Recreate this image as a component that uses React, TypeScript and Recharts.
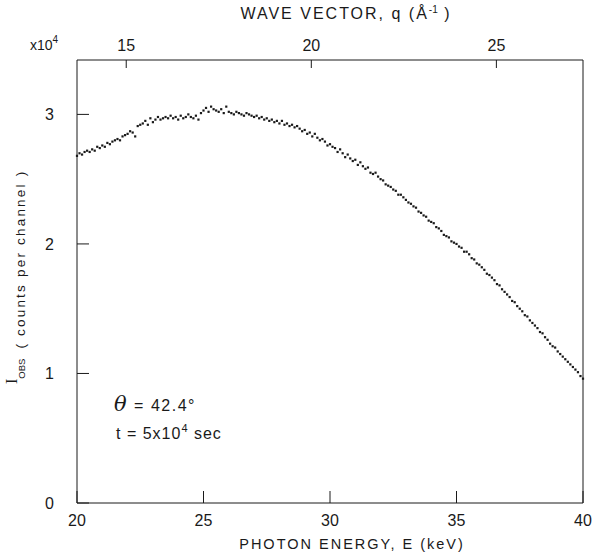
import { ScatterChart, Scatter, XAxis, YAxis, Customized } from "recharts";

const seg20: [number, number][] = [
  [20.0, 2.68], [20.1, 2.7], [20.2, 2.69], [20.3, 2.71], [20.4, 2.72], [20.5, 2.71], [20.6, 2.73], [20.7, 2.72], [20.8, 2.75], [20.9, 2.74],
  [21.0, 2.76], [21.1, 2.75], [21.2, 2.78], [21.3, 2.77], [21.4, 2.79], [21.5, 2.8], [21.6, 2.81], [21.7, 2.8], [21.8, 2.83], [21.9, 2.84],
  [22.0, 2.85], [22.1, 2.87], [22.2, 2.86], [22.3, 2.83], [22.4, 2.91], [22.5, 2.92], [22.6, 2.93], [22.7, 2.95], [22.8, 2.92], [22.9, 2.97],
  [23.0, 2.94], [23.1, 2.96], [23.2, 2.98], [23.3, 2.96], [23.4, 2.97], [23.5, 2.98], [23.6, 2.97], [23.7, 2.99], [23.8, 2.97], [23.9, 2.98],
  [24.0, 2.96], [24.1, 2.99], [24.2, 2.97], [24.3, 2.98], [24.4, 3.0], [24.5, 2.98], [24.6, 2.97], [24.7, 2.99], [24.8, 2.96], [24.9, 3.01],
];
const seg25: [number, number][] = [
  [25.0, 3.03], [25.1, 3.05], [25.2, 3.02], [25.3, 3.06], [25.4, 3.04], [25.5, 3.03], [25.6, 3.02], [25.7, 3.04], [25.8, 3.01], [25.9, 3.06],
  [26.0, 3.02], [26.1, 3.01], [26.2, 3.0], [26.3, 3.02], [26.4, 3.01], [26.5, 3.0], [26.6, 2.99], [26.7, 3.01], [26.8, 3.0], [26.9, 2.99],
  [27.0, 2.98], [27.1, 2.99], [27.2, 2.97], [27.3, 2.98], [27.4, 2.96], [27.5, 2.97], [27.6, 2.95], [27.7, 2.96], [27.8, 2.94], [27.9, 2.95],
  [28.0, 2.93], [28.1, 2.95], [28.2, 2.92], [28.3, 2.93], [28.4, 2.91], [28.5, 2.92], [28.6, 2.9], [28.7, 2.91], [28.8, 2.89], [28.9, 2.87],
  [29.0, 2.88], [29.1, 2.85], [29.2, 2.86], [29.3, 2.83], [29.4, 2.85], [29.5, 2.82], [29.6, 2.8], [29.7, 2.81], [29.8, 2.79], [29.9, 2.76],
];
const seg30: [number, number][] = [
  [30.0, 2.77], [30.1, 2.75], [30.2, 2.74], [30.3, 2.71], [30.4, 2.73], [30.5, 2.7], [30.6, 2.67], [30.7, 2.69], [30.8, 2.66], [30.9, 2.64],
  [31.0, 2.65], [31.1, 2.61], [31.2, 2.63], [31.3, 2.6], [31.4, 2.58], [31.5, 2.59], [31.6, 2.55], [31.7, 2.54], [31.8, 2.55], [31.9, 2.52],
  [32.0, 2.5], [32.1, 2.49], [32.2, 2.46], [32.3, 2.45], [32.4, 2.44], [32.5, 2.42], [32.6, 2.41], [32.7, 2.38], [32.8, 2.38], [32.9, 2.36],
  [33.0, 2.34], [33.1, 2.32], [33.2, 2.31], [33.3, 2.29], [33.4, 2.28], [33.5, 2.25], [33.6, 2.24], [33.7, 2.22], [33.8, 2.21], [33.9, 2.18],
  [34.0, 2.17], [34.1, 2.16], [34.2, 2.13], [34.3, 2.12], [34.4, 2.1], [34.5, 2.07], [34.6, 2.06], [34.7, 2.05], [34.8, 2.02], [34.9, 2.01],
];
const seg35: [number, number][] = [
  [35.0, 2.0], [35.1, 1.98], [35.2, 1.97], [35.3, 1.94], [35.4, 1.94], [35.5, 1.92], [35.6, 1.89], [35.7, 1.88], [35.8, 1.85], [35.9, 1.84],
  [36.0, 1.82], [36.1, 1.8], [36.2, 1.77], [36.3, 1.76], [36.4, 1.74], [36.5, 1.72], [36.6, 1.69], [36.7, 1.68], [36.8, 1.65], [36.9, 1.63],
  [37.0, 1.61], [37.1, 1.59], [37.2, 1.56], [37.3, 1.55], [37.4, 1.52], [37.5, 1.5], [37.6, 1.48], [37.7, 1.45], [37.8, 1.44], [37.9, 1.41],
  [38.0, 1.39], [38.1, 1.37], [38.2, 1.35], [38.3, 1.32], [38.4, 1.31], [38.5, 1.28], [38.6, 1.26], [38.7, 1.23], [38.8, 1.21], [38.9, 1.2],
  [39.0, 1.17], [39.1, 1.15], [39.2, 1.13], [39.3, 1.11], [39.4, 1.09], [39.5, 1.07], [39.6, 1.05], [39.7, 1.03], [39.8, 1.01], [39.9, 0.98], [40.0, 0.96],
];

const energyTicks = [20, 25, 30, 35, 40];
const qTicks = [15, 20, 25];
const intensityTicks = [0, 1, 2, 3];
// q = 4π sinθ / λ at θ = 42.4°  ->  q ≈ 0.6835 Å⁻¹ per keV
const Q_PER_KEV = 0.6835;
const qTickEnergies = qTicks.map((q) => q / Q_PER_KEV);

const points = [...seg20, ...seg25, ...seg30, ...seg35].map(([e, i]) => ({ e, i }));

const INK = "#1a1a1a";
const FONT = "'Liberation Sans', Arial, sans-serif";

function Dot(props: any) {
  const { cx, cy } = props;
  return <rect x={cx - 1.1} y={cy - 1.1} width={2.2} height={2.2} fill={INK} />;
}

function Annotations() {
  return (
    <g fontFamily={FONT} fill={INK}>
      <text x={346} y={19} fontSize={16} textAnchor="middle" letterSpacing={2}>
        WAVE VECTOR, q (Å
        <tspan dy={-6} fontSize={10} letterSpacing={0}>-1</tspan>
        <tspan dy={6}> )</tspan>
      </text>
      <text x={30} y={50} fontSize={14}>
        x10<tspan dy={-7} fontSize={10}>4</tspan>
      </text>
      <text x={352} y={549} fontSize={14.5} textAnchor="middle" letterSpacing={2}>
        PHOTON ENERGY, E (keV)
      </text>
      <text transform="translate(17, 384) rotate(-90)" fontSize={13.5}>
        <tspan fontFamily="'Liberation Serif', serif" fontSize={16}>I</tspan>
        <tspan dy={8} fontSize={9.5}>OBS</tspan>
        <tspan dx={10} letterSpacing={2.2}>( counts per channel )</tspan>
      </text>
      <text x={114} y={411} fontSize={16} letterSpacing={1.5}>
        <tspan fontStyle="italic" fontSize={21} fontFamily="'DejaVu Serif', serif">θ</tspan> = 42.4°
      </text>
      <text x={116} y={439} fontSize={16} letterSpacing={1}>
        t  =  5x10<tspan dy={-7} fontSize={11}>4</tspan>
        <tspan dy={7}> sec</tspan>
      </text>
    </g>
  );
}

export default function App() {
  return (
    <div style={{ position: "absolute", left: 0, top: 0, background: "#fff" }}>
      <ScatterChart width={594} height={552} margin={{ top: 30, right: 10, bottom: 0, left: 0 }}>
        <XAxis
          xAxisId="e"
          dataKey="e"
          type="number"
          domain={[20, 40]}
          ticks={energyTicks}
          height={49}
          stroke={INK}
          tickSize={-12}
          tickMargin={24}
          tick={{ fill: INK, fontSize: 16, fontFamily: FONT }}
        />
        <XAxis
          xAxisId="q"
          dataKey="e"
          orientation="top"
          type="number"
          domain={[20, 40]}
          ticks={qTickEnergies}
          tickFormatter={(v: number) => String(Math.round(v * Q_PER_KEV))}
          height={30}
          stroke={INK}
          tickSize={-8}
          tickMargin={17}
          tick={{ fill: INK, fontSize: 16, fontFamily: FONT }}
        />
        <YAxis
          yAxisId="l"
          dataKey="i"
          type="number"
          domain={[0, 3.42]}
          ticks={intensityTicks}
          width={77}
          stroke={INK}
          tickSize={-12}
          tickMargin={35}
          tick={{ fill: INK, fontSize: 16, fontFamily: FONT }}
        />
        <YAxis
          yAxisId="r"
          dataKey="i"
          orientation="right"
          type="number"
          domain={[0, 3.42]}
          ticks={intensityTicks}
          width={1}
          stroke={INK}
          tickSize={-12}
          tick={false}
        />
        <Scatter
          xAxisId="e"
          yAxisId="l"
          data={points}
          shape={<Dot />}
          isAnimationActive={false}
        />
        <Scatter
          xAxisId="q"
          yAxisId="r"
          data={points}
          shape={() => <g />}
          legendType="none"
          isAnimationActive={false}
        />
        <Customized component={<Annotations />} />
      </ScatterChart>
    </div>
  );
}
